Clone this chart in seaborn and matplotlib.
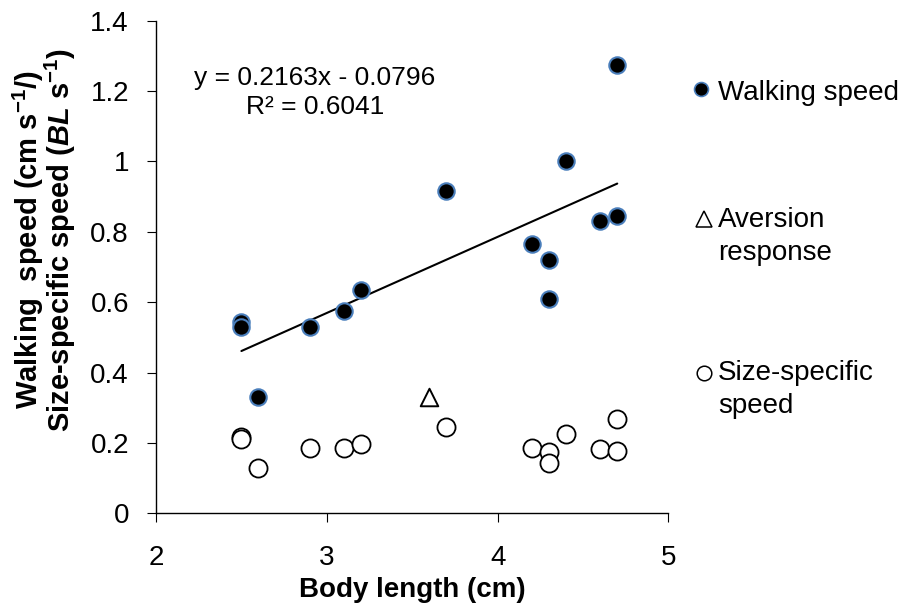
import matplotlib
matplotlib.use("Agg")
import numpy as np
import pandas as pd
import seaborn as sns
import matplotlib.pyplot as plt
from matplotlib.lines import Line2D

# values
body_length = [2.5, 2.5, 2.6, 2.9, 3.1, 3.2, 3.7, 4.2, 4.3, 4.3, 4.4, 4.6, 4.7, 4.7]
walking_speed = [0.545, 0.53, 0.33, 0.53, 0.575, 0.635, 0.915, 0.765, 0.72, 0.61, 1.0, 0.83, 0.845, 1.275]
size_specific_speed = [0.217, 0.212, 0.13, 0.185, 0.185, 0.197, 0.245, 0.185, 0.173, 0.142, 0.226, 0.184, 0.177, 0.269]

aversion_x = [3.6]
aversion_y = [0.33]

slope = 0.2163
intercept = -0.0796
r_squared = 0.6041

x_ticks = [2, 3, 4, 5]
y_ticks = [0, 0.2, 0.4, 0.6, 0.8, 1.0, 1.2, 1.4]
y_tick_labels = ["0", "0.2", "0.4", "0.6", "0.8", "1", "1.2", "1.4"]

legend_labels = ["Walking speed", "Aversion\nresponse", "Size-specific\nspeed"]


def px(x, y):
    # pixel position (from top-left) of the 899x608 canvas to figure fraction
    return x / 899, 1 - y / 608


def main():
    sns.set_theme(style="ticks")
    plt.rcParams['font.family'] = ['Liberation Sans', 'DejaVu Sans']
    plt.rcParams['mathtext.fontset'] = 'custom'
    plt.rcParams['mathtext.rm'] = 'Liberation Sans'
    plt.rcParams['mathtext.it'] = 'Liberation Sans:italic'
    plt.rcParams['mathtext.bf'] = 'Liberation Sans:bold'
    plt.rcParams['mathtext.bfit'] = 'Liberation Sans:italic:bold'
    plt.rcParams['text.color'] = 'black'
    plt.rcParams['axes.labelcolor'] = 'black'

    df = pd.DataFrame({
        'body_length': body_length,
        'walking': walking_speed,
        'size_specific': size_specific_speed,
    })

    fig = plt.figure(figsize=(8.99, 6.08), dpi=100)
    ax = fig.add_axes([0.1735, 0.1558, 0.5701, 0.8102])

    # regression line for walking speed
    fit_x = np.array([min(body_length), max(body_length)])
    fit_y = slope * fit_x + intercept
    sns.lineplot(x=fit_x, y=fit_y, ax=ax, color='black', linewidth=1.5, zorder=2)

    sns.scatterplot(data=df, x='body_length', y='walking', ax=ax, s=140, color='black',
                    edgecolor='#4a7ebb', linewidth=1.5, zorder=3)
    sns.scatterplot(data=df, x='body_length', y='size_specific', ax=ax, s=170, color='white',
                    edgecolor='black', linewidth=1.3, zorder=3)
    sns.scatterplot(x=aversion_x, y=aversion_y, ax=ax, marker='^', s=160, color='white',
                    edgecolor='black', linewidth=1.4, zorder=3)

    ax.text(2.93, 1.195, f"y = {slope}x - {abs(intercept)}\nR² = {r_squared}",
            ha='center', va='center', multialignment='center', fontsize=19, linespacing=1.25)

    ax.set_xlim(2, 5)
    ax.set_ylim(0, 1.4)
    ax.set_xticks(x_ticks)
    ax.set_xticklabels([str(t) for t in x_ticks])
    ax.set_yticks(y_ticks)
    ax.set_yticklabels(y_tick_labels)
    ax.tick_params(axis='both', length=6.5, width=0.8, labelsize=20, color='black',
                   labelcolor='black')
    ax.tick_params(axis='x', pad=16)
    ax.tick_params(axis='y', pad=13)

    for side in ['top', 'right']:
        ax.spines[side].set_visible(False)
    for side in ['left', 'bottom']:
        ax.spines[side].set_color('black')
        ax.spines[side].set_linewidth(1.0)

    ax.set_xlabel("Body length (cm)", fontsize=20, fontweight='bold', labelpad=5)
    ax.set_ylabel("Walking  speed (cm s$^{\\mathbf{-1}}$/)\n"
                  "Size-specific speed ($\\mathbfit{BL}$ s$^{\\mathbf{-1}}$)",
                  fontsize=21, fontweight='bold', linespacing=0.9)
    ax.yaxis.set_label_coords(-0.152, 0.555)

    # legend drawn at the right of the plot area
    key_style = [
        dict(marker='o', markersize=10, markerfacecolor='black', markeredgecolor='#4a7ebb',
             markeredgewidth=1.2),
        dict(marker='^', markersize=11.5, markerfacecolor='white', markeredgecolor='black',
             markeredgewidth=1.1),
        dict(marker='o', markersize=10.5, markerfacecolor='white', markeredgecolor='black',
             markeredgewidth=1.1),
    ]
    key_pos = [(700.7, 89), (704, 218.5), (703.5, 372.5)]
    last_baseline = [100, 260, 413]
    for label, style, (kx, ky), base in zip(legend_labels, key_style, key_pos, last_baseline):
        fx, fy = px(kx, ky)
        fig.add_artist(Line2D([fx], [fy], transform=fig.transFigure, linestyle='none', **style))
        tx, ty = px(718, base)
        fig.text(tx, ty, label, ha='left', va='baseline', fontsize=20, linespacing=1.36)

    fig.savefig("out.png", dpi=100)


if __name__ == "__main__":
    main()
